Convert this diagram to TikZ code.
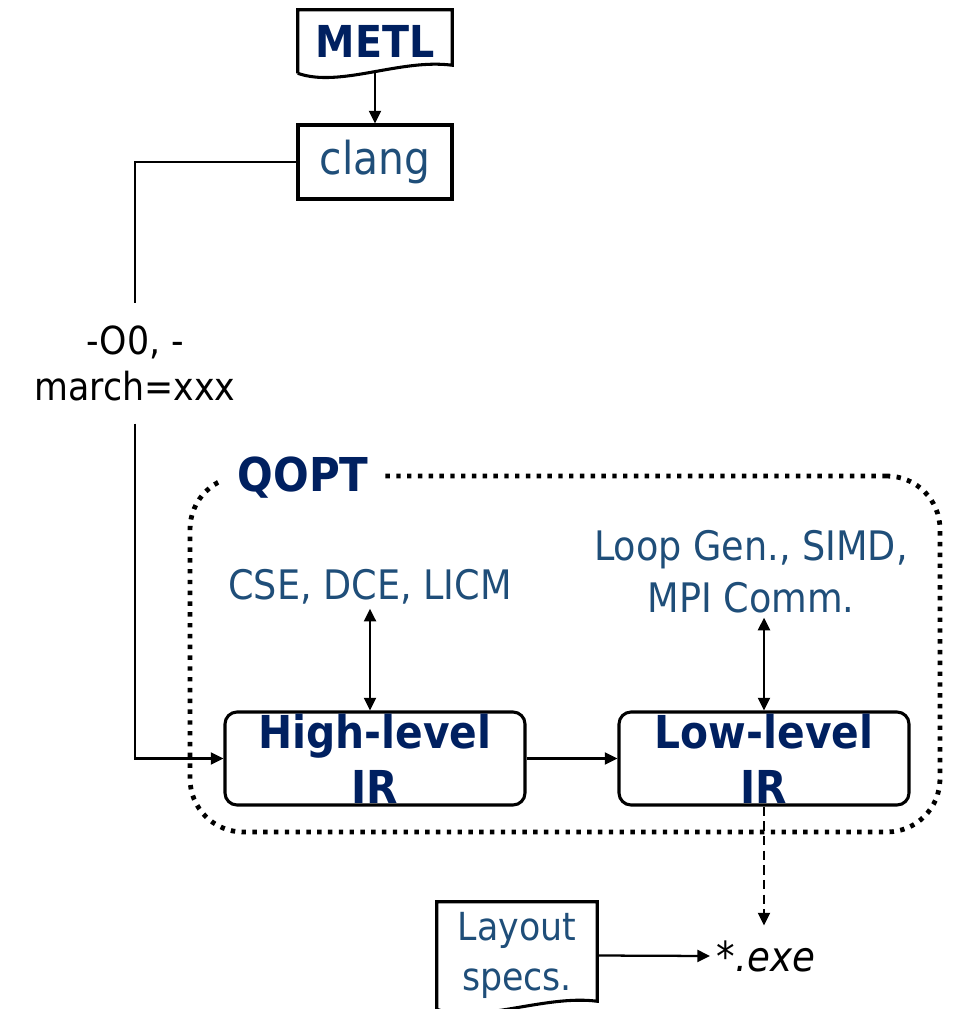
\documentclass[tikz,border=0pt]{standalone}
\usepackage{fontspec}
\setmainfont{DejaVu Sans Condensed}
\usetikzlibrary{arrows.meta}
\usepackage{xcolor}
\definecolor{navy}{RGB}{0,32,96}
\definecolor{steel}{RGB}{31,78,121}
\newcommand\docoutline[1]{\draw[line width=2.3pt] (#1.south west) -- (#1.north west) -- (#1.north east) -- ([yshift=6pt]#1.south east) .. controls +(-52,-7) and +(42,15) .. (#1.south west);}

\begin{document}
\begin{tikzpicture}[x=0.75pt, y=-0.75pt,
        box/.style={draw, line width=2.3pt, inner sep=0pt},
        irbox/.style={box, rounded corners=9pt, minimum width=#1, minimum height=69.75pt, align=center, text=navy, font=\fontsize{34}{41}\selectfont\bfseries},
        note/.style={align=center, text=steel, inner sep=3pt, font=\fontsize{30.5}{39}\selectfont},
        link/.style={line width=1.7pt, -{Triangle[length=9.5pt,width=9pt]}},
        twoway/.style={line width=1.7pt, {Triangle[length=9.5pt,width=9pt]}-{Triangle[length=9.5pt,width=9pt]}},
        dotbox/.style={draw, line width=3.6pt, dash pattern=on 3.3pt off 4.8pt, rounded corners=40pt, inner sep=0pt}]
            \useasboundingbox (0,0) rectangle (957,1009);

            % Input
            \node (metl) at (375,41.5) [minimum width=115.5pt, minimum height=47.25pt, inner sep=0pt, text=navy, font=\fontsize{33}{40}\selectfont\bfseries] {METL};
            \docoutline{metl}
            \node (clang) at (375,162) [box, minimum width=115.5pt, minimum height=55.5pt, text=steel, font=\fontsize{34}{40}\selectfont] {clang};
            \node (opts) at (135,363.5) [align=center, inner xsep=0pt, inner ysep=17pt, font=\fontsize{29}{34}\selectfont] {-O0, -\\march=xxx};

            % QOPT
            \node (qoptbox) at (565,654) [dotbox, minimum width=562.5pt, minimum height=267pt] {};
            \node (qopt) at (303,478) [fill=white, inner xsep=12pt, inner ysep=4pt, text=navy, font=\fontsize{35}{40}\selectfont\bfseries] {QOPT};
            \node (high) at (375,758.5) [irbox=225pt] {High-level\\IR};
            \node (low) at (764,758.5) [irbox=217.5pt] {Low-level\\IR};
            \node (cse) at (370,587) [note] {CSE, DCE, LICM};
            \node (loop) at (751,572) [note] {Loop Gen., SIMD,\\MPI Comm.};

            % Output
            \node (exe) at (766,956) [inner xsep=5pt, inner ysep=11pt, font=\fontsize{31}{36}\selectfont] {*\textit{.exe}};
            \node (layout) at (517,955.5) [minimum width=120pt, minimum height=80.25pt, inner sep=0pt, align=center, text=steel, font=\fontsize{29}{37.5}\selectfont] {Layout\\specs.};
            \docoutline{layout}

            % Connectors
            \draw [link] (metl.south) -- (clang.north);
            \draw [line width=1.7pt] (clang.west) -| (opts.north);
            \draw [link] (opts.south) |- (high.west);
            \draw [link] (high.east) -- (low.west);
            \draw [twoway] (cse.south) -- (cse.south |- high.north);
            \draw [twoway] (low.north |- loop.south) -- (low.north);
            \draw [link, dash pattern=on 7pt off 4pt] (low.south) -- (low.south |- exe.north);
            \draw [link] (layout.east) -- (exe.west);
\end{tikzpicture}
\end{document}
